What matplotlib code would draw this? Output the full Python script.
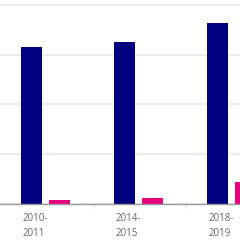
import matplotlib
matplotlib.use("Agg")
import matplotlib.pyplot as plt
import numpy as np

# Dados
periodos = ["2010-\n2011", "2014-\n2015", "2018-\n2019"]
serie_azul = [15.8, 16.3, 18.2]
serie_rosa = [0.4, 0.6, 2.2]

AZUL = "#000080"
ROSA = "#e6007e"

fig = plt.figure(figsize=(2.4, 2.4), dpi=100)
ax = fig.add_axes([0, 0.15, 1, 0.85])

x = np.arange(len(periodos))
largura = 0.232
ax.bar(x - 0.156, serie_azul, width=largura, color=AZUL, zorder=3)
ax.bar(x + 0.145, serie_rosa, width=largura, color=ROSA, zorder=3)

ax.set_xlim(-0.495, 2.086)
ax.set_ylim(0, 20.5)
ax.set_yticks([0, 5, 10, 15, 20])
ax.yaxis.grid(True, color="#ececec", linewidth=1.4, zorder=0)
ax.tick_params(axis="y", left=False, labelleft=False)

# marcas entre categorias
ax.set_xticks([0.5, 1.5])
ax.set_xticklabels([])
ax.tick_params(axis="x", length=3, color="#dddddd", width=0.8)

for s in ["top", "right", "left"]:
    ax.spines[s].set_visible(False)
ax.spines["bottom"].set_color("#999999")
ax.spines["bottom"].set_linewidth(1.0)
ax.spines["bottom"].set_zorder(4)

for i, rotulo in enumerate(periodos):
    ax.text(i - 0.25, -0.95, rotulo, ha="left", va="top", fontsize=7,
            color="#666666", family="Open Sans", linespacing=1.45,
            transform=ax.transData, clip_on=False)

fig.savefig("out.png", dpi=100)
